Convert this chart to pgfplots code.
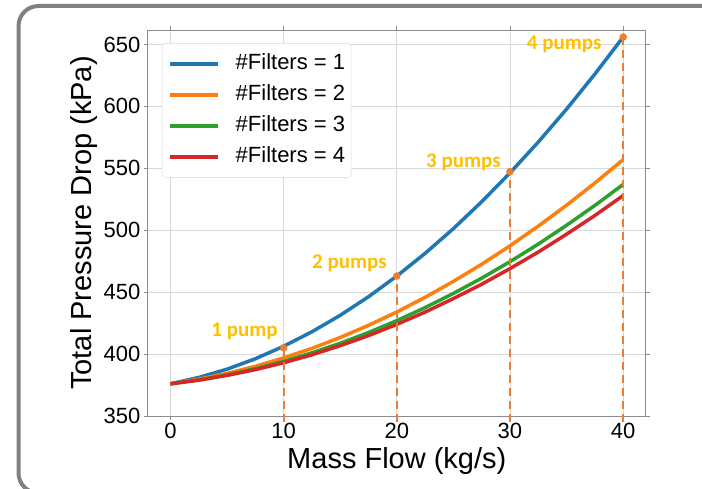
\documentclass[border=0pt]{standalone}
\usepackage{fontspec}
\setmainfont{Liberation Sans}
\newfontfamily\calib{Carlito}
\usepackage{pgfplots}
\usepackage{pgfplotstable}
\pgfplotsset{compat=1.18}

\definecolor{tblue}{HTML}{1F77B4}
\definecolor{torange}{HTML}{FF7F0E}
\definecolor{tgreen}{HTML}{2CA02C}
\definecolor{tred}{HTML}{D62728}
\definecolor{pptorange}{HTML}{ED7D31}
\definecolor{pptgold}{HTML}{FFC000}

% total pressure drop (kPa) vs mass flow (kg/s), one column per filter count
\pgfplotstableread{
x     f1     f2     f3     f4
0     376.0  376.0  376.0  376.0
2.5   381.1  379.7  379.1  378.9
5     387.8  384.4  383.2  382.8
7.5   396.2  390.1  388.2  387.4
10    406.3  396.9  394.1  393.0
12.5  418.0  404.6  401.0  399.4
15    431.3  413.4  408.7  406.8
17.5  446.3  423.2  417.4  414.9
20    463.0  434.0  427.0  424.0
22.5  481.3  445.8  437.5  433.9
25    501.3  458.7  449.0  444.8
27.5  523.0  472.5  461.3  456.4
30    546.3  487.4  474.6  469.0
32.5  571.2  503.3  488.8  482.4
35    597.8  520.2  504.0  496.8
37.5  626.1  538.1  520.0  511.9
40    656.0  557.0  537.0  528.0
}\droptable

\begin{document}
\begin{tikzpicture}
\useasboundingbox (0pt,0pt) rectangle (702pt,489pt);
\draw[black!50, line width=4pt, rounded corners=20pt] (18.5pt,-4pt) rectangle (790pt,483pt);
\begin{axis}[
    at={(147.8pt,73pt)}, anchor=south west,
    scale only axis, width=498pt, height=386pt,
    xmin=-2, xmax=42, ymin=350, ymax=661.7,
    xtick={0,10,20,30,40}, ytick={350,400,...,650},
    tick align=outside, major tick length=4pt,
    tick style={black!45, line width=0.8pt},
    axis line style={black!45, line width=0.8pt},
    grid=major, major grid style={black!15, line width=0.8pt},
    tick label style={font=\fontsize{22}{22}\selectfont},
    /pgf/number format/assume math mode=true,
    xlabel={Mass Flow (kg/s)},
    ylabel={Total Pressure Drop (kPa)},
    label style={font=\fontsize{29}{29}\selectfont},
    xlabel style={at={(rel axis cs:0.5,0)}, anchor=base, yshift=-53pt},
    ylabel style={at={(rel axis cs:0,0.5)}, anchor=base, yshift=56pt},
    clip=false,
    legend cell align=left,
    legend image code/.code={\draw[#1] (0pt,0pt) -- (48pt,0pt);},
    legend style={at={(rel axis cs:0.0285,0.966)}, anchor=north west,
        draw=black!15, rounded corners=3pt, fill=white,
        inner xsep=6pt, inner ysep=10pt, row sep=10pt, column sep=16pt,
        font=\fontsize{22}{22}\selectfont,
        nodes={inner sep=0pt, text height=16pt, text depth=5pt}},
]
\addplot[tblue, line width=3.5pt] table[x=x, y=f1] {\droptable};
\addlegendentry{\#Filters = 1}
\addplot[torange, line width=3.5pt] table[x=x, y=f2] {\droptable};
\addlegendentry{\#Filters = 2}
\addplot[tgreen, line width=3.5pt] table[x=x, y=f3] {\droptable};
\addlegendentry{\#Filters = 3}
\addplot[tred, line width=3.5pt] table[x=x, y=f4] {\droptable};
\addlegendentry{\#Filters = 4}

\addplot[forget plot, pptorange, line width=2pt, dash pattern=on 8pt off 5pt] coordinates {(10,345) (10,405)};
\addplot[forget plot, pptorange, line width=2pt, dash pattern=on 8pt off 5pt] coordinates {(20,345) (20,463)};
\addplot[forget plot, pptorange, line width=2pt, dash pattern=on 8pt off 5pt] coordinates {(30,345) (30,547.3)};
\addplot[forget plot, pptorange, line width=2pt, dash pattern=on 8pt off 5pt] coordinates {(40,345) (40,656)};
\addplot[forget plot, only marks, mark=*, mark size=3.5pt, pptorange] coordinates {(10,405) (20,463) (30,547.3) (40,656)};

\begin{scope}[every node/.style={anchor=base east, inner sep=0pt, text=pptgold, font=\calib\bfseries\fontsize{21}{21}\selectfont}]
\node at (axis cs:9.5,413.8) {1 pump};
\node at (axis cs:19.13,468.7) {2 pumps};
\node at (axis cs:29.2,550.3) {3 pumps};
\node at (axis cs:38.1,645.6) {4 pumps};
\end{scope}
\end{axis}
\end{tikzpicture}
\end{document}
